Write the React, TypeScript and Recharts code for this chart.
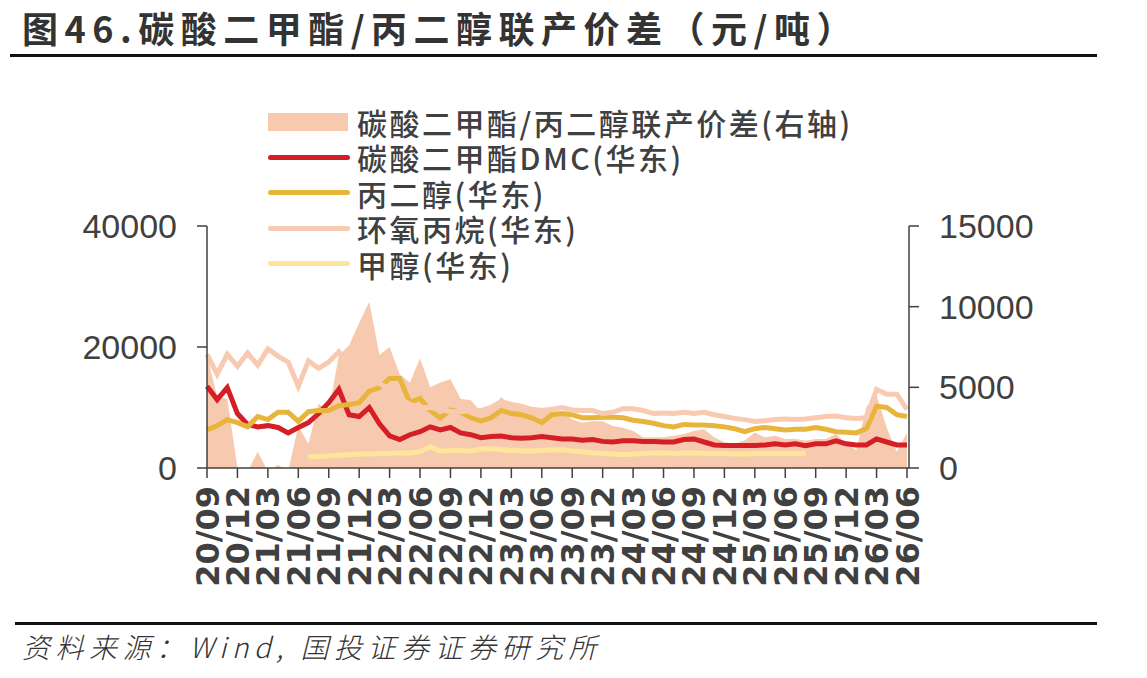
import { ComposedChart, Area, Line, XAxis, YAxis } from 'recharts';

// monthly index: 0 = 2020/09 ... 69 = 2026/06
const tickLabels = [
  '20/09', '20/12', '21/03', '21/06', '21/09', '21/12', '22/03', '22/06',
  '22/09', '22/12', '23/03', '23/06', '23/09', '23/12', '24/03', '24/06',
  '24/09', '24/12', '25/03', '25/06', '25/09', '25/12', '26/03', '26/06',
];

const spread = [
  7000, 4400, 4300, 0, -200, 1000, -200, 200, -200, 2600,
  1500, 4000, 3500, 7000, 7600, 9000, 10300, 7000, 7500, 5800,
  5300, 6800, 5000, 5300, 5500, 4300, 4200, 3500, 3600, 4400,
  3800, 3800, 3600, 3500, 3500, 3500, 3000, 2800, 2900, 2900,
  2600, 2500, 2300, 1900, 1900, 1900, 2000, 2100, 2300, 2400,
  1900, 1600, 1500, 1700, 2200, 1900, 2000, 1800, 1800, 1700,
  1800, 1800, 2100, 1500, 1100, 3800, 4500, 2500, 1000, 2200,
];

const dmc = [
  13500, 11300, 13300, 9000, 7200, 6800, 7000, 6700, 5800, 6700,
  7500, 9000, 10800, 13000, 8800, 8500, 10000, 7300, 5300, 4700,
  5500, 6000, 6800, 6300, 6700, 5800, 5500, 5000, 5200, 5300,
  5000, 4900, 5000, 5200, 5000, 4800, 4800, 4600, 4700, 4400,
  4300, 4500, 4500, 4400, 4400, 4300, 4300, 4700, 4800, 4300,
  3800, 3700, 3700, 3700, 3700, 3800, 4000, 3800, 4000, 3700,
  4000, 4000, 4500, 4000, 3800, 3800, 4800, 4300, 3800, 3800,
];

const pg = [
  6300, 7000, 8000, 7500, 6800, 8500, 8000, 9200, 9200, 7700,
  9300, 9500, 9500, 10300, 10500, 10800, 12700, 13300, 14800, 14800,
  10800, 11500, 9500, 8300, 9600, 9200, 8300, 7800, 8300, 9500,
  9000, 8800, 8300, 7500, 8800, 9000, 8800, 8300, 8300, 8400,
  8400, 8300, 7900, 7700, 7400, 7000, 6800, 7200, 7100, 7100,
  7000, 6800, 6500, 6000, 6500, 6700, 6500, 6300, 6400, 6400,
  6700, 6400, 6000, 5900, 5800, 6500, 10200, 10000, 8800, 8500,
];

const po = [
  18800, 15500, 18800, 16800, 19000, 17000, 19700, 18500, 17500, 13500,
  17700, 16500, 17500, 19200, 17000, 16000, 15000, 14000, 13000, 11500,
  10500, 10000, 10000, 9700, 9300, 9300, 9500, 9500, 10000, 11000,
  10500, 10200, 9700, 9500, 9700, 10000, 9600, 9500, 9500, 9000,
  9200, 9800, 9800, 9500, 9000, 9100, 9000, 9200, 9000, 9200,
  8800, 8500, 8200, 8000, 7700, 7800, 8000, 8100, 8000, 8100,
  8300, 8500, 8600, 8300, 8200, 8300, 13000, 12200, 12200, 9700,
];

const methanol = [
  null, null, null, null, null, null, null, null, null, null,
  1800, 1900, 2000, 2100, 2200, 2300, 2300, 2400, 2400, 2500,
  2500, 2700, 3500, 2800, 2900, 2900, 2800, 3100, 3200, 3000,
  2900, 2800, 2800, 2900, 3000, 3000, 2800, 2700, 2500, 2400,
  2300, 2200, 2300, 2400, 2500, 2500, 2400, 2500, 2500, 2400,
  2400, 2400, 2300, 2300, 2400, 2400, 2400, 2400, 2400, 2400,
  null, null, null, null, null, null, null, null, null, null,
];

const data = dmc.map((_, i) => ({
  i,
  spread: spread[i],
  dmc: dmc[i],
  pg: pg[i],
  po: po[i],
  methanol: methanol[i],
}));

const xTicks = tickLabels.map((_, k) => k * 3);

const C_SPREAD = '#F7CAB0';
const C_DMC = '#D41F26';
const C_PG = '#E8B53C';
const C_PO = '#F8CAB2';
const C_MEOH = '#FFE59A';
const AXIS = '#404040';

const legendItems = [
  { label: '碳酸二甲酯/丙二醇联产价差(右轴)', color: C_SPREAD, box: true },
  { label: '碳酸二甲酯DMC(华东)', color: C_DMC },
  { label: '丙二醇(华东)', color: C_PG },
  { label: '环氧丙烷(华东)', color: C_PO },
  { label: '甲醇(华东)', color: C_MEOH },
];

function XTick({ x, y, payload }: any) {
  const label = tickLabels[Math.round(payload.value / 3)];
  const ty = y + 6;
  return (
    <text
      x={x}
      y={ty}
      dy="0.36em"
      transform={`rotate(-90 ${x} ${ty})`}
      textAnchor="end"
      fill={AXIS}
      fontSize={32}
      fontWeight="bold"
      fontFamily="DejaVu Sans"
    >
      {label}
    </text>
  );
}

const yTick = { fill: AXIS, fontSize: 34, fontFamily: 'Liberation Sans' };

export default function App() {
  return (
    <div style={{ position: 'fixed', left: 0, top: 0, width: 1147, height: 678, background: '#fff', overflow: 'hidden' }}>
      <div
        style={{
          position: 'absolute', left: 22, top: 6, fontSize: 36, fontWeight: 'bold', letterSpacing: 6.5,
          color: '#333', fontFamily: '"Noto Sans CJK SC"', lineHeight: '42px', whiteSpace: 'nowrap',
        }}
      >
        图46.碳酸二甲酯/丙二醇联产价差（元/吨）
      </div>
      <div style={{ position: 'absolute', left: 10, top: 54, width: 1087, height: 3, background: '#111' }} />

      <div style={{ position: 'absolute', left: 0, top: 0 }}>
        <ComposedChart width={1147} height={678} data={data} margin={{ top: 226, right: 0, bottom: 80, left: 0 }}>
          <XAxis
            dataKey="i"
            type="number"
            domain={[0, 69]}
            ticks={xTicks}
            interval={0}
            tickSize={10}
            height={130}
            padding={{ left: 0, right: 2 }}
            axisLine={{ stroke: AXIS, strokeWidth: 1.5 }}
            tickLine={{ stroke: AXIS, strokeWidth: 1.5 }}
            tick={<XTick />}
          />
          <YAxis
            yAxisId="left"
            domain={[0, 40000]}
            ticks={[0, 20000, 40000]}
            width={207}
            tickSize={10}
            tickMargin={20}
            axisLine={{ stroke: AXIS, strokeWidth: 1.5 }}
            tickLine={{ stroke: AXIS, strokeWidth: 1.5 }}
            tick={yTick}
          />
          <YAxis
            yAxisId="right"
            orientation="right"
            domain={[0, 15000]}
            allowDataOverflow
            ticks={[0, 5000, 10000, 15000]}
            width={238}
            tickSize={10}
            tickMargin={20}
            axisLine={{ stroke: AXIS, strokeWidth: 1.5 }}
            tickLine={{ stroke: AXIS, strokeWidth: 1.5 }}
            tick={{ ...yTick, textAnchor: 'start' }}
          />
          <Area
            yAxisId="right"
            dataKey="spread"
            type="linear"
            stroke="none"
            fill={C_SPREAD}
            fillOpacity={1}
            baseValue={0}
            isAnimationActive={false}
          />
          <Line yAxisId="left" dataKey="dmc" type="linear" stroke={C_DMC} strokeWidth={5} dot={false} isAnimationActive={false} />
          <Line yAxisId="left" dataKey="pg" type="linear" stroke={C_PG} strokeWidth={5} dot={false} isAnimationActive={false} />
          <Line yAxisId="left" dataKey="po" type="linear" stroke={C_PO} strokeWidth={5} dot={false} isAnimationActive={false} />
          <Line yAxisId="left" dataKey="methanol" type="linear" stroke={C_MEOH} strokeWidth={5} dot={false} isAnimationActive={false} />
        </ComposedChart>
      </div>

      <div style={{ position: 'absolute', left: 268, top: 104 }}>
        {legendItems.map((it) => (
          <div key={it.label} style={{ display: 'flex', alignItems: 'center', height: 35.5 }}>
            <div style={{ width: 82, display: 'flex', alignItems: 'center' }}>
              {it.box ? (
                <div style={{ width: 80, height: 18, background: it.color }} />
              ) : (
                <div style={{ width: 82, height: 5, borderRadius: 3, background: it.color }} />
              )}
            </div>
            <div
              style={{
                marginLeft: 7, fontSize: 30, letterSpacing: 2.5, color: AXIS, fontWeight: 500,
                fontFamily: '"Noto Sans CJK SC"', whiteSpace: 'nowrap', lineHeight: '32px', height: 32,
                overflow: 'visible',
              }}
            >
              {it.label}
            </div>
          </div>
        ))}
      </div>

      <div style={{ position: 'absolute', left: 15, top: 622, width: 1082, height: 3, background: '#111' }} />
      <div
        style={{
          position: 'absolute', left: 22, top: 628, fontSize: 28, fontStyle: 'italic', fontWeight: 300,
          letterSpacing: 5.5, color: '#333', fontFamily: '"Noto Sans CJK SC"', whiteSpace: 'nowrap', lineHeight: '36px',
        }}
      >
        资料来源：Wind, 国投证券证券研究所
      </div>
    </div>
  );
}
